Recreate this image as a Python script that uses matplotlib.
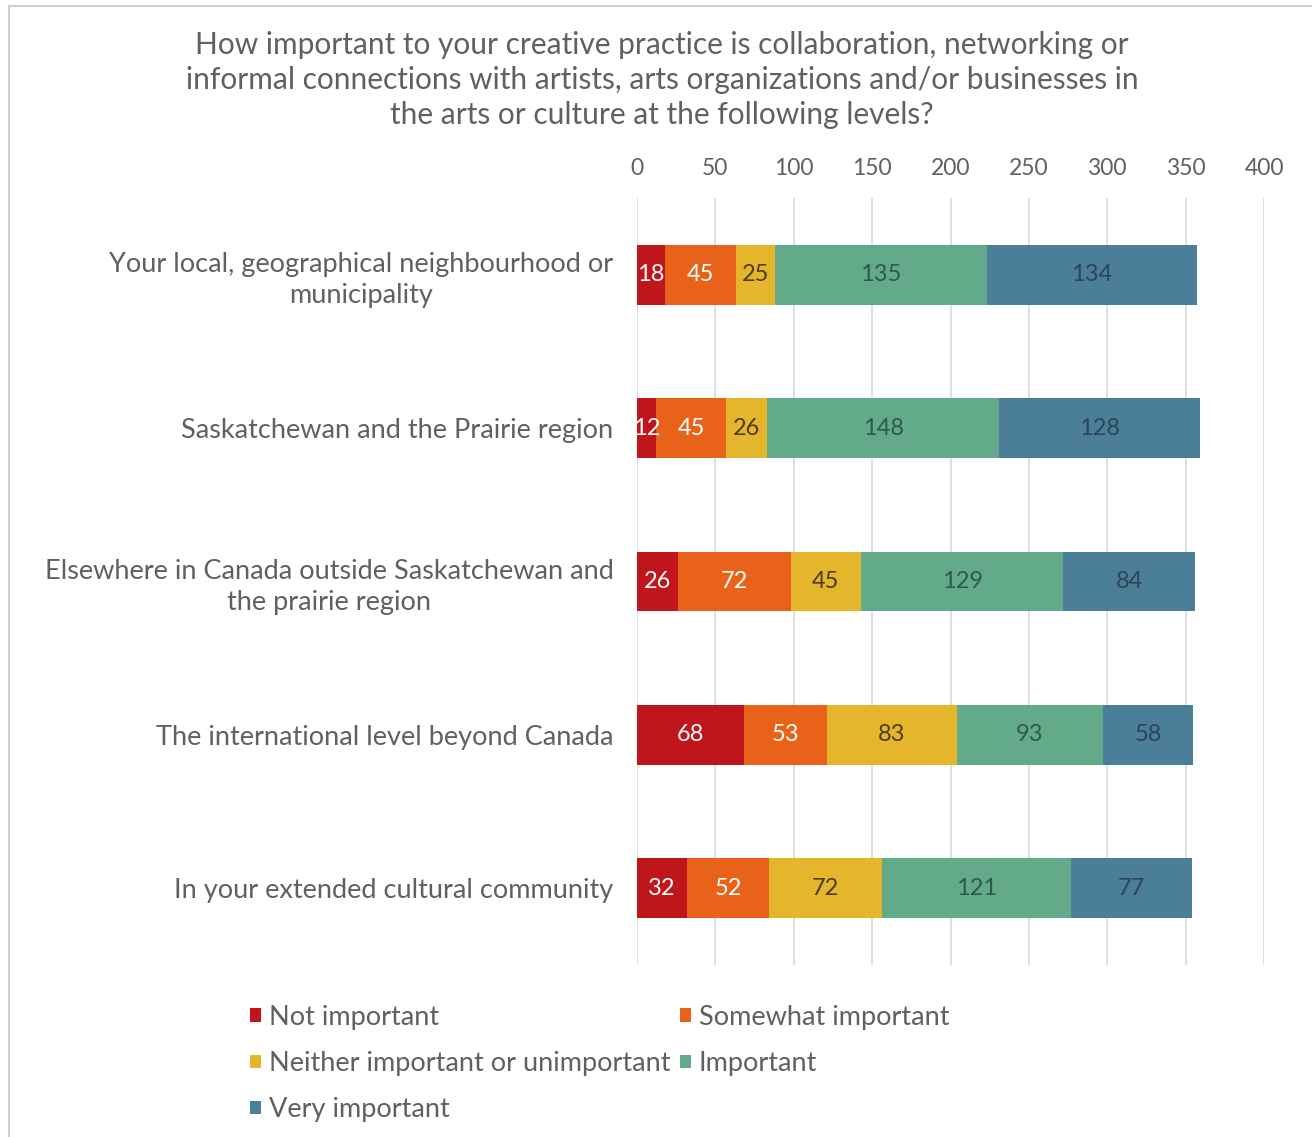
import matplotlib.pyplot as plt
from matplotlib.patches import Rectangle, Patch

plt.rcParams['font.family'] = ['Lato', 'DejaVu Sans']

levels = [
    'Your local, geographical neighbourhood or\nmunicipality',
    'Saskatchewan and the Prairie region',
    'Elsewhere in Canada outside Saskatchewan and\nthe prairie region',
    'The international level beyond Canada',
    'In your extended cultural community',
]
not_important = [18, 12, 26, 68, 32]
somewhat_important = [45, 45, 72, 53, 52]
neither = [25, 26, 45, 83, 72]
important = [135, 148, 129, 93, 121]
very_important = [134, 128, 84, 58, 77]

series_names = ['Not important', 'Somewhat important',
                'Neither important or unimportant', 'Important', 'Very important']
series_values = [not_important, somewhat_important, neither, important, very_important]
colors = ['#C0151B', '#E8621A', '#E5B62C', '#63AA8B', '#4B7E98']
label_colors = ['white', 'white', '#4a3c14', '#2e5a47', '#2c4657']

title = ('How important to your creative practice is collaboration, networking or\n'
         'informal connections with artists, arts organizations and/or businesses in\n'
         'the arts or culture at the following levels?')

text_gray = '#606060'

fig = plt.figure(figsize=(13.12, 11.37), dpi=100)
ax = fig.add_axes([637 / 1312, 1 - 965 / 1137, (1264 - 637) / 1312, (965 - 198) / 1137])

# outer chart frame
fig.patches.append(Rectangle((9 / 1312, -0.05), 1.1, 1 - 6 / 1137 + 0.05,
                             transform=fig.transFigure, fill=False,
                             edgecolor='#d0d0d0', linewidth=1.5, zorder=0))

ypos = list(range(len(levels)))
left = [0] * len(levels)
for name, vals, col, lcol in zip(series_names, series_values, colors, label_colors):
    bars = ax.barh(ypos, vals, left=left, height=0.39, color=col, label=name, zorder=3)
    for b, v in zip(bars, vals):
        ax.text(b.get_x() + b.get_width() / 2, b.get_y() + b.get_height() / 2, str(v),
                ha='center', va='center', color=lcol, fontsize=17, zorder=4)
    left = [l + v for l, v in zip(left, vals)]

ax.set_xlim(0, 400)
ax.set_ylim(len(levels) - 0.5, -0.5)
ax.set_xticks(range(0, 401, 50))
ax.xaxis.tick_top()
ax.tick_params(axis='x', length=0, pad=14, labelsize=16.5, labelcolor=text_gray)
ax.set_yticks(ypos)
ax.set_yticklabels(levels, fontsize=19.5, color=text_gray,
                   multialignment='center', linespacing=1.3)
ax.tick_params(axis='y', length=0, pad=17)
ax.grid(axis='x', color='#d9d9d9', linewidth=1.2, zorder=0)
for s in ax.spines.values():
    s.set_visible(False)

fig.text(662 / 1312, 1 - 80 / 1137, title, ha='center', va='center',
         fontsize=21.5, color=text_gray, linespacing=1.3)

handles = [Patch(facecolor=c, label=n) for c, n in zip(colors, series_names)]
order = [0, 2, 4, 1, 3]
fig.legend([handles[i] for i in order], [series_names[i] for i in order],
           ncol=2, loc='upper left', bbox_to_anchor=(250 / 1312, 1 - 1005 / 1137),
           frameon=False, fontsize=19.5, labelcolor=text_gray,
           borderpad=0, borderaxespad=0,
           handlelength=0.4, handleheight=0.4, handletextpad=0.3,
           columnspacing=0.35, labelspacing=0.78)

fig.savefig('out.png', dpi=100)
